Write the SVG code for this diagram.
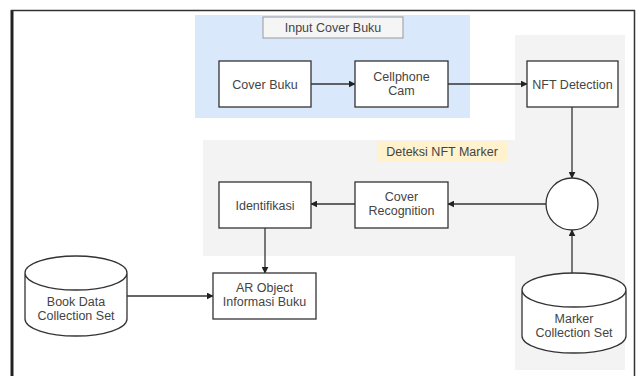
<svg xmlns="http://www.w3.org/2000/svg" width="641" height="376" viewBox="0 0 641 376">
<defs>
<marker id="arr" viewBox="0 0 10 10" refX="9" refY="5" markerWidth="7" markerHeight="7" orient="auto" markerUnits="userSpaceOnUse">
<path d="M0,0 L10,5 L0,10 z" fill="#222"/>
</marker>
<style>
.box{fill:#fff;stroke:#333;stroke-width:1.3}
.t{font-family:"Liberation Sans",Arial,sans-serif;font-size:12.5px;fill:#444;text-anchor:middle}
.c{stroke:#333;stroke-width:1.3;fill:none;marker-end:url(#arr)}
</style>
</defs>
<rect x="0" y="0" width="641" height="376" fill="#fff"/>
<!-- frame -->
<line x1="12" y1="10" x2="12" y2="376" stroke="#222" stroke-width="3"/>
<line x1="11" y1="10.5" x2="635" y2="10.5" stroke="#333" stroke-width="1.5"/>
<line x1="634.5" y1="10" x2="634.5" y2="376" stroke="#333" stroke-width="1.5"/>
<!-- regions -->
<rect x="195" y="15" width="275" height="103" fill="#dae8fc"/>
<rect x="203" y="140" width="422" height="116" fill="#f3f3f3"/>
<rect x="515" y="35" width="110" height="335" fill="#f3f3f3"/>
<g id="label-input">
<rect x="263" y="17" width="140" height="21" fill="#f5f5f5" stroke="#999" stroke-width="1"/>
<text class="t" x="333" y="32">Input Cover Buku</text>
</g>
<g id="label-deteksi">
<rect x="377" y="141" width="130" height="21" fill="#fff2cc" stroke="none"/>
<text class="t" x="442" y="156">Deteksi NFT Marker</text>
</g>
<g id="connectors">
<path class="c" d="M311,84 L355,84"/>
<path class="c" d="M448,84 L527,84"/>
<path class="c" d="M572,107 L572,178"/>
<path class="c" d="M546,204 L448,204"/>
<path class="c" d="M355,204 L311,204"/>
<path class="c" d="M265,228 L265,273"/>
<path class="c" d="M127,296 L213,296"/>
<path class="c" d="M572,273 L572,230"/>
</g>
<g id="cover-buku">
<rect class="box" x="219" y="61" width="92" height="46"/>
<text class="t" x="265" y="88.5">Cover Buku</text>
</g>
<g id="cellphone-cam">
<rect class="box" x="355" y="61" width="93" height="46"/>
<text class="t" x="401.5" y="81">Cellphone</text>
<text class="t" x="401.5" y="95">Cam</text>
</g>
<g id="nft-detection">
<rect class="box" x="527" y="61" width="91" height="46"/>
<text class="t" x="572.5" y="88.5">NFT Detection</text>
</g>
<g id="junction">
<circle cx="572" cy="204" r="26" fill="#fff" stroke="#333" stroke-width="1.3"/>
</g>
<g id="cover-recognition">
<rect class="box" x="355" y="182" width="93" height="46"/>
<text class="t" x="401.5" y="201">Cover</text>
<text class="t" x="401.5" y="215">Recognition</text>
</g>
<g id="identifikasi">
<rect class="box" x="219" y="182" width="92" height="46"/>
<text class="t" x="265" y="209.5">Identifikasi</text>
</g>
<g id="ar-object">
<rect class="box" x="213" y="273" width="103" height="46"/>
<text class="t" x="264.5" y="292">AR Object</text>
<text class="t" x="264.5" y="306">Informasi Buku</text>
</g>
<g id="book-data">
<path d="M25,273 L25,319 A51,17 0 0 0 127,319 L127,273 A51,17 0 0 0 25,273 A51,17 0 0 0 127,273" fill="#fff" stroke="#333" stroke-width="1.3"/>
<text class="t" x="76" y="306">Book Data</text>
<text class="t" x="76" y="320">Collection Set</text>
</g>
<g id="marker-collection">
<path d="M522,290 L522,336 A52,17 0 0 0 626,336 L626,290 A52,17 0 0 0 522,290 A52,17 0 0 0 626,290" fill="#fff" stroke="#333" stroke-width="1.3"/>
<text class="t" x="574" y="323">Marker</text>
<text class="t" x="574" y="337">Collection Set</text>
</g>
</svg>
